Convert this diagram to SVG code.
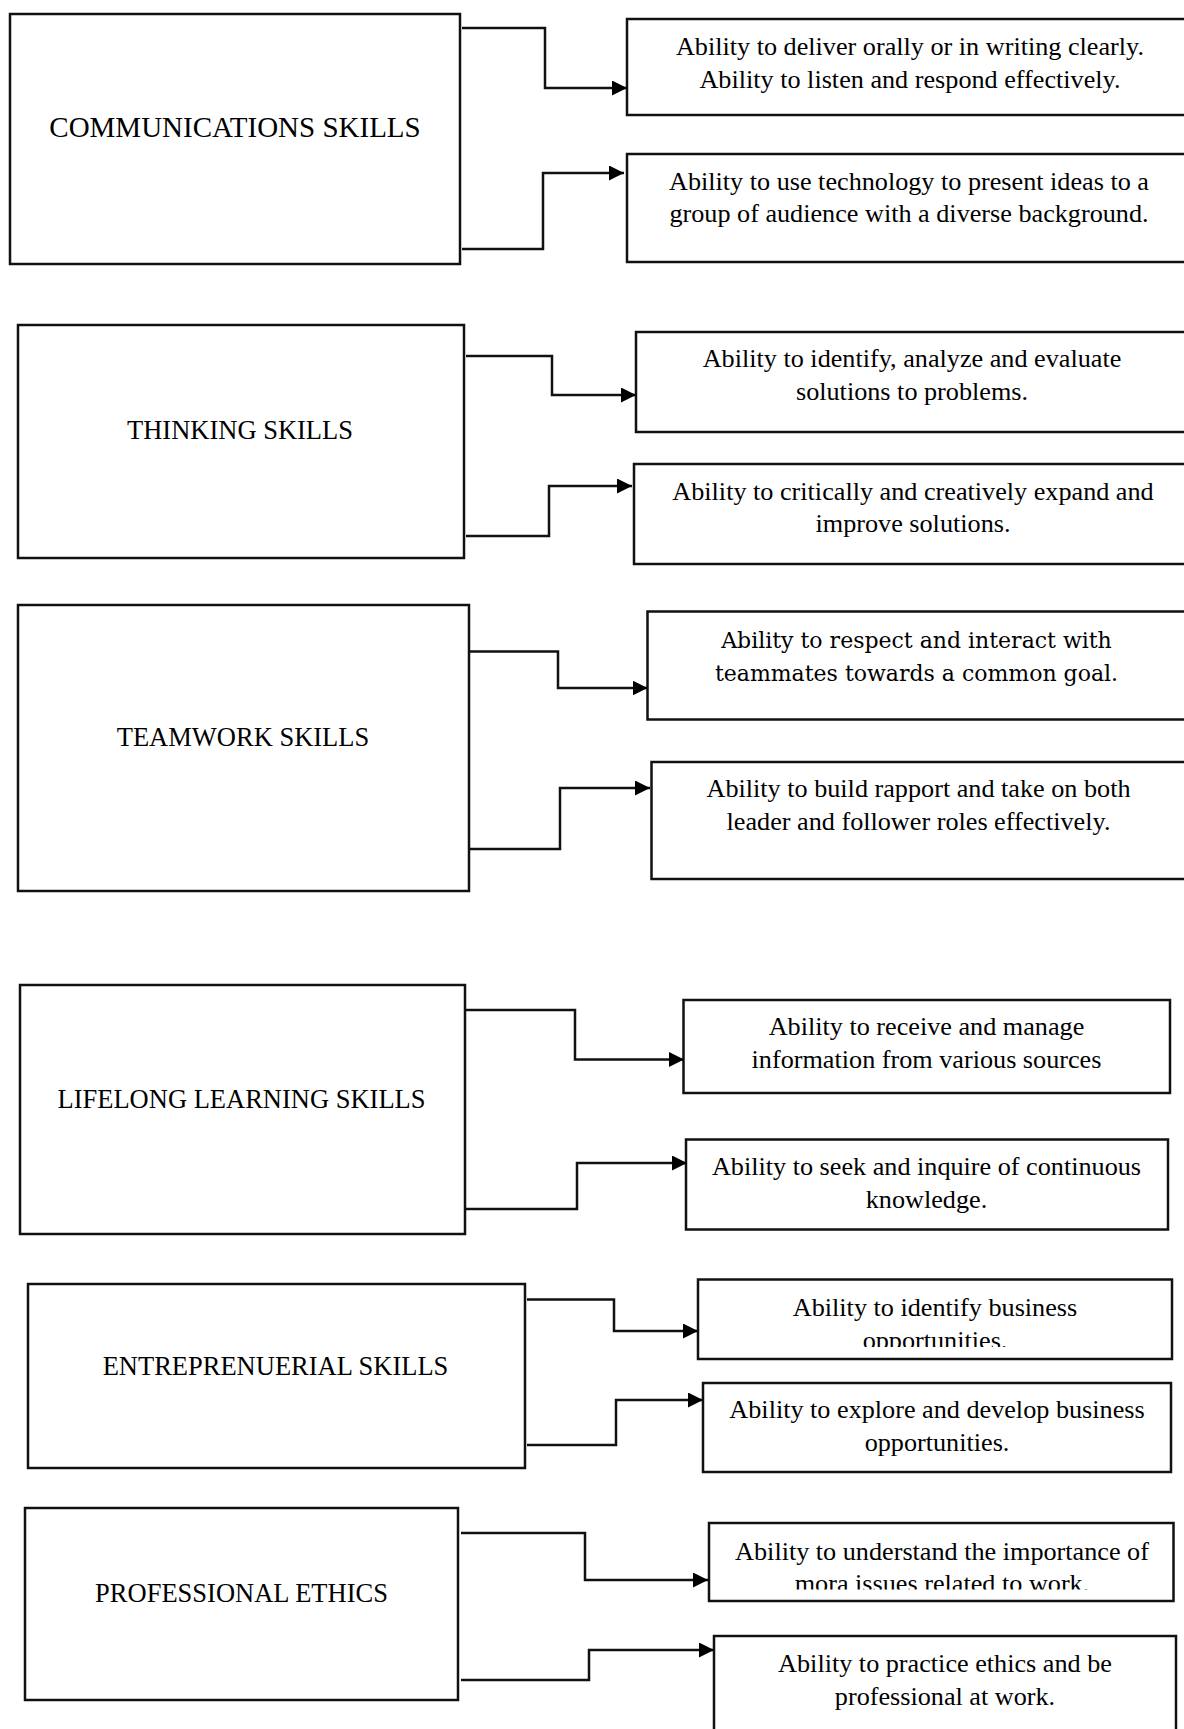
<svg xmlns="http://www.w3.org/2000/svg" width="1184" height="1729" viewBox="0 0 1184 1729">
<style>
.box{fill:#fff;stroke:#111;stroke-width:2.5}
.title{font-family:"Liberation Serif","Times New Roman",serif;font-size:26.5px;text-anchor:middle;fill:#000}
.txt{font-family:"Liberation Serif","Times New Roman",serif;font-size:26.2px;text-anchor:middle;fill:#000}
.cam{font-family:"DejaVu Serif","Liberation Serif",serif;font-size:22px;text-anchor:middle;fill:#000}
.conn{fill:none;stroke:#111;stroke-width:2.5}
</style>
<defs>
<marker id="arr" markerUnits="userSpaceOnUse" markerWidth="16" markerHeight="16" refX="15" refY="7.5" orient="auto">
<path d="M0,0 L15,7.5 L0,15 z" fill="#000"/>
</marker>
<clipPath id="clipE1"><rect x="698" y="1279" width="475" height="68"/></clipPath>
<clipPath id="clipP1"><rect x="709" y="1523" width="465" height="66.5"/></clipPath>
</defs>
<rect width="1184" height="1729" fill="#fff"/>

<g id="communications">
<rect class="box" x="10" y="14" width="450" height="250"/>
<text class="title" x="235" y="137" style="font-size:29px">COMMUNICATIONS SKILLS</text>
</g>
<g id="comm-a">
<rect class="box" x="627" y="19" width="570" height="96"/>
<text class="txt" x="910" y="55">Ability to deliver orally or in writing clearly.</text>
<text class="txt" x="910" y="87.5">Ability to listen and respond effectively.</text>
</g>
<g id="comm-b">
<rect class="box" x="627" y="154" width="570" height="108"/>
<text class="txt" x="909" y="189.5">Ability to use technology to present ideas to a</text>
<text class="txt" x="909" y="222">group of audience with a diverse background.</text>
</g>

<g id="thinking">
<rect class="box" x="18" y="325" width="446" height="233"/>
<text class="title" x="240" y="438.5">THINKING SKILLS</text>
</g>
<g id="think-a">
<rect class="box" x="636" y="332" width="560" height="100"/>
<text class="txt" x="912" y="367">Ability to identify, analyze and evaluate</text>
<text class="txt" x="912" y="399.5">solutions to problems.</text>
</g>
<g id="think-b">
<rect class="box" x="634" y="464" width="562" height="100"/>
<text class="txt" x="913" y="499.5">Ability to critically and creatively expand and</text>
<text class="txt" x="913" y="532">improve solutions.</text>
</g>

<g id="teamwork">
<rect class="box" x="18" y="605" width="451" height="286"/>
<text class="title" x="243" y="746">TEAMWORK SKILLS</text>
</g>
<g id="team-a">
<rect class="box" x="647.5" y="611.5" width="550" height="108"/>
<text class="cam" x="916.5" y="648">Ability to respect and interact with</text>
<text class="cam" x="916.5" y="681">teammates towards a common goal.</text>
</g>
<g id="team-b">
<rect class="box" x="651.5" y="762" width="546" height="117"/>
<text class="txt" x="918.5" y="796.5">Ability to build rapport and take on both</text>
<text class="txt" x="918.5" y="829.5">leader and follower roles effectively.</text>
</g>

<g id="lifelong">
<rect class="box" x="20" y="985" width="445" height="249"/>
<text class="title" x="241.5" y="1107.5">LIFELONG LEARNING SKILLS</text>
</g>
<g id="life-a">
<rect class="box" x="683.5" y="1000" width="486.5" height="93"/>
<text class="txt" x="926.5" y="1035">Ability to receive and manage</text>
<text class="txt" x="926.5" y="1067.5">information from various sources</text>
</g>
<g id="life-b">
<rect class="box" x="686" y="1139.5" width="482" height="90"/>
<text class="txt" x="926.5" y="1175">Ability to seek and inquire of continuous</text>
<text class="txt" x="926.5" y="1208">knowledge.</text>
</g>

<g id="entrepreneurial">
<rect class="box" x="28" y="1284" width="497" height="184"/>
<text class="title" x="275.5" y="1375">ENTREPRENUERIAL SKILLS</text>
</g>
<g id="entre-a">
<rect class="box" x="698" y="1279.5" width="474" height="79.5"/>
<g clip-path="url(#clipE1)">
<text class="txt" x="935" y="1316">Ability to identify business</text>
<text class="txt" x="935" y="1349">opportunities.</text>
</g>
</g>
<g id="entre-b">
<rect class="box" x="703" y="1383" width="468" height="89"/>
<text class="txt" x="937" y="1418">Ability to explore and develop business</text>
<text class="txt" x="937" y="1451">opportunities.</text>
</g>

<g id="professional">
<rect class="box" x="25" y="1508" width="433" height="192"/>
<text class="title" x="241.5" y="1602">PROFESSIONAL ETHICS</text>
</g>
<g id="prof-a">
<rect class="box" x="709" y="1523" width="464.5" height="78"/>
<g clip-path="url(#clipP1)">
<text class="txt" x="942" y="1559.5">Ability to understand the importance of</text>
<text class="txt" x="942" y="1592">mora issues related to work.</text>
</g>
</g>
<g id="prof-b">
<rect class="box" x="714" y="1636" width="462" height="110"/>
<text class="txt" x="945" y="1672">Ability to practice ethics and be</text>
<text class="txt" x="945" y="1705">professional at work.</text>
</g>

<g id="connectors">
<path class="conn" marker-end="url(#arr)" d="M462,28 H545 V88 H627"/>
<path class="conn" marker-end="url(#arr)" d="M462,249 H543 V173 H624"/>
<path class="conn" marker-end="url(#arr)" d="M466,356 H552 V395 H636"/>
<path class="conn" marker-end="url(#arr)" d="M466,536 H549 V486 H632"/>
<path class="conn" marker-end="url(#arr)" d="M470,651.5 H558 V688 H647.5"/>
<path class="conn" marker-end="url(#arr)" d="M470,849 H560 V788 H650"/>
<path class="conn" marker-end="url(#arr)" d="M466,1010 H575 V1059.5 H684"/>
<path class="conn" marker-end="url(#arr)" d="M466,1209 H577 V1163 H687"/>
<path class="conn" marker-end="url(#arr)" d="M527,1299.5 H614 V1331 H698"/>
<path class="conn" marker-end="url(#arr)" d="M527,1445 H616 V1400 H703"/>
<path class="conn" marker-end="url(#arr)" d="M461,1533 H585 V1580 H708"/>
<path class="conn" marker-end="url(#arr)" d="M461,1680 H589 V1650 H714"/>
</g>
</svg>
